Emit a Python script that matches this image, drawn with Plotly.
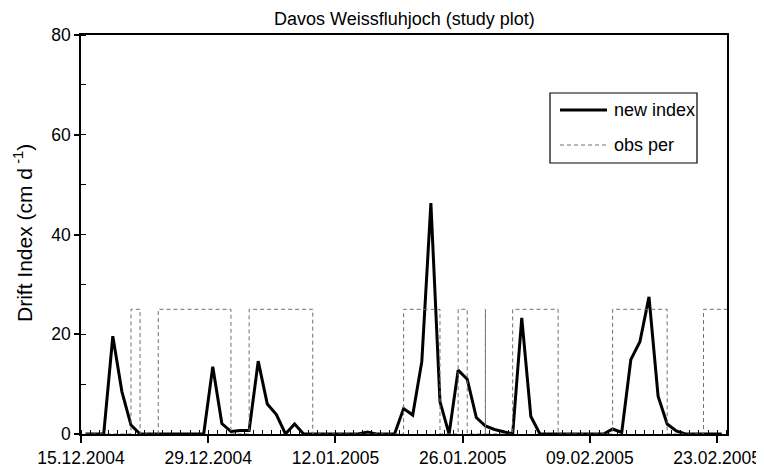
import plotly.graph_objects as go
import pandas as pd

# ---- data ----
start_date = "2004-12-15"
new_index = [0, 0, 0, 19.6, 8.5, 1.8, 0, 0, 0, 0,
             0, 0, 0, 0, 13.5, 2.1, 0.5, 0.7, 0.7, 14.6,
             6.0, 3.9, 0, 2.0, 0, 0, 0, 0, 0, 0,
             0, 0.4, 0, 0, 0, 5.1, 3.8, 14.5, 46.3, 6.5,
             0, 12.8, 11.0, 3.3, 1.6, 0.9, 0.4, 0, 23.3, 3.5,
             0, 0, 0, 0, 0, 0, 0, 0, 1.0, 0.3,
             14.9, 18.5, 27.5, 7.6, 2.0, 0.6, 0, 0, 0, 0,
             0]
obs_start = ["2004-12-20", "2004-12-23", "2005-01-02", "2005-01-19", "2005-01-25",
             "2005-01-28", "2005-01-31", "2005-02-11", "2005-02-21"]
obs_end = ["2004-12-21", "2004-12-31", "2005-01-09", "2005-01-23", "2005-01-26",
           "2005-01-28", "2005-02-05", "2005-02-17", "2005-02-25"]
obs_level = 25
series_names = ["new index", "obs per"]
tick_format = "%d.%m.%Y"

dates = pd.date_range(start_date, periods=len(new_index), freq="D") + pd.Timedelta(hours=12)

# step series for observation periods
ox, oy = [dates[0]], [0]
for s, e in zip(obs_start, obs_end):
    s = pd.Timestamp(s) + pd.Timedelta(hours=12)
    e = pd.Timestamp(e) + pd.Timedelta(hours=12)
    ox += [s, s, e, e]
    oy += [0, obs_level, obs_level, 0]

LINE_STYLE = dict(color="black", width=3)
DASH_STYLE = dict(color="#707070", width=1, dash="4px,3px")

fig = go.Figure()
fig.add_trace(go.Scatter(x=dates, y=new_index, mode="lines", name=series_names[0],
                         line=LINE_STYLE, showlegend=False))
fig.add_trace(go.Scatter(x=ox, y=oy, mode="lines", name=series_names[1],
                         line=DASH_STYLE, showlegend=False))

# page offset: the browser body has an 8px margin
OFF = 8
# plot-area geometry (page pixels)
L, R, T, B = 81, 727, 35, 434
W, H = R - L, B - T
def px(x):
    return (x - L) / W
def py(y):
    return (B - y) / H

font_family = "Liberation Sans, Arial, sans-serif"
shapes = [
    dict(type="rect", xref="paper", yref="paper", x0=px(550), x1=px(697),
         y0=py(163), y1=py(93), line=dict(color="black", width=1.2), fillcolor="white",
         layer="above"),
    dict(type="line", xref="paper", yref="paper", x0=px(560), x1=px(607),
         y0=py(110), y1=py(110), line=LINE_STYLE, layer="above"),
    dict(type="line", xref="paper", yref="paper", x0=px(560), x1=px(607),
         y0=py(145), y1=py(145), line=DASH_STYLE, layer="above"),
]
annotations = [
    dict(text=series_names[0], xref="paper", yref="paper", x=px(612), y=py(110),
         xanchor="left", yanchor="middle", showarrow=False, font=dict(size=18)),
    dict(text=series_names[1], xref="paper", yref="paper", x=px(612), y=py(145),
         xanchor="left", yanchor="middle", showarrow=False, font=dict(size=18)),
    dict(text="Drift Index (cm d<sup> -1</sup>)", xref="paper", yref="paper",
         x=px(23), y=py(233), xanchor="center", yanchor="middle", textangle=-90,
         showarrow=False, font=dict(size=21)),
    dict(text="Davos Weissfluhjoch (study plot)", xref="paper", yref="paper",
         x=px(404), y=py(19), xanchor="center", yanchor="middle",
         showarrow=False, font=dict(size=18)),
]

fig.update_layout(
    width=764 - OFF, height=468 - OFF,
    margin=dict(l=L - OFF, r=764 - R, t=T - OFF, b=468 - B),
    paper_bgcolor="white", plot_bgcolor="white",
    font=dict(family=font_family, size=17.5, color="black"),
    showlegend=False,
    shapes=shapes, annotations=annotations,
)
fig.update_xaxes(
    type="date", range=["2004-12-15", "2005-02-24 02:00"], automargin=False,
    tick0="2004-12-15", dtick=14 * 86400000, tickformat=tick_format,
    ticks="outside", ticklen=7, tickwidth=1.5, tickcolor="black",
    minor=dict(dtick=86400000, tick0="2004-12-15", ticks="inside", ticklen=4,
               tickwidth=1.2, tickcolor="black", showgrid=False),
    showline=True, linecolor="black", linewidth=1.5, mirror=True,
    showgrid=False, zeroline=False, tickfont=dict(size=17.5),
)
fig.update_yaxes(
    range=[0, 80], dtick=20, tick0=0, automargin=False,
    ticks="outside", ticklen=5, tickwidth=1.5, tickcolor="black",
    minor=dict(dtick=10, ticks="inside", ticklen=5, tickwidth=1.2,
               tickcolor="black", showgrid=False),
    showline=True, linecolor="black", linewidth=1.5, mirror=True,
    showgrid=False, zeroline=False, tickfont=dict(size=17.5),
)

fig.write_html("out.html")
